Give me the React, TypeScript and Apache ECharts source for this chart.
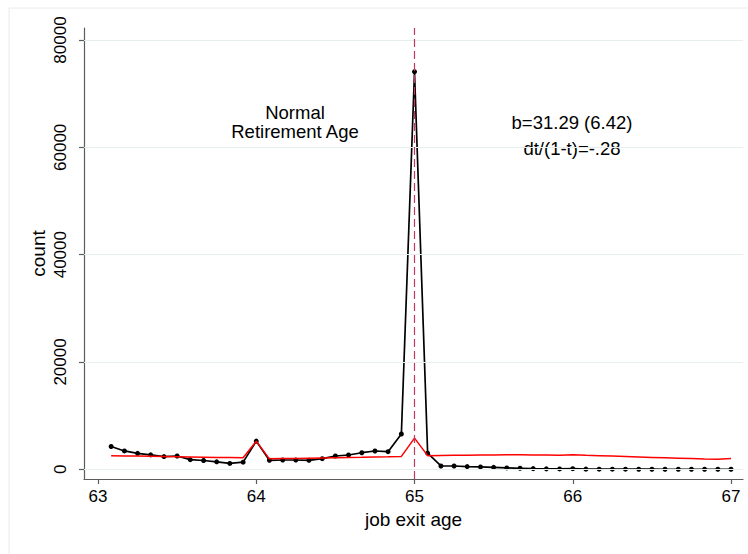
import React, { useEffect, useRef } from "react";
import * as echarts from "echarts";

const ages = [
  63.083, 63.167, 63.25, 63.333, 63.417, 63.5, 63.583, 63.667, 63.75, 63.833, 63.917, 64.0,
  64.083, 64.167, 64.25, 64.333, 64.417, 64.5, 64.583, 64.667, 64.75, 64.833, 64.917, 65.0,
  65.083, 65.167, 65.25, 65.333, 65.417, 65.5, 65.583, 65.667, 65.75, 65.833, 65.917, 66.0,
  66.083, 66.167, 66.25, 66.333, 66.417, 66.5, 66.583, 66.667, 66.75, 66.833, 66.917, 67.0,
];

const counts = [
  4250, 3420, 2980, 2690, 2370, 2480, 1790, 1640, 1390, 1090, 1330, 5250,
  1680, 1730, 1730, 1680, 1980, 2480, 2660, 3090, 3410, 3280, 6580, 74100,
  3000, 620, 610, 500, 440, 370, 260, 190, 130, 80, 70, 110,
  30, 25, 20, 20, 15, 15, 10, 10, 10, 10, 10, 10,
];

const fitted = [
  2540, 2500, 2460, 2420, 2380, 2340, 2300, 2260, 2220, 2190, 2160, 5250,
  1950, 1990, 2030, 2070, 2110, 2150, 2190, 2230, 2280, 2330, 2400, 5800,
  2540, 2580, 2610, 2640, 2660, 2680, 2690, 2690, 2680, 2660, 2640, 2720,
  2620, 2540, 2460, 2380, 2300, 2220, 2140, 2060, 1990, 1920, 1870, 2000,
];

const xTicks = [63, 64, 65, 66, 67];
const yTicks = [0, 20000, 40000, 60000, 80000];
const cutoffAge = 65;

const FONT = "Liberation Sans, Arial, Helvetica, sans-serif";

export default function App() {
  const ref = useRef<HTMLDivElement>(null);

  useEffect(() => {
    if (!ref.current) return;
    const chart = echarts.init(ref.current, null, { renderer: "svg" });
    chart.setOption({
      animation: false,
      backgroundColor: "#ffffff",
      grid: { left: 84, right: 5, top: 28, bottom: 75 },
      xAxis: {
        type: "value",
        min: 62.9115,
        max: 67.0758,
        axisLine: { onZero: false, lineStyle: { color: "#5c5c5c", width: 1.2 } },
        axisTick: { customValues: xTicks, length: 5, lineStyle: { color: "#5c5c5c", width: 1.2 } },
        axisLabel: {
          customValues: xTicks,
          fontSize: 17,
          color: "#000",
          fontFamily: FONT,
          margin: 9,
          formatter: (v: number) => String(Math.round(v)),
        },
        splitLine: { show: false },
        name: "job exit age",
        nameLocation: "middle",
        nameGap: 31,
        nameMoveOverlap: false,
        nameTextStyle: { fontSize: 19, color: "#000", fontFamily: FONT },
      },
      yAxis: {
        type: "value",
        min: -1808,
        max: 82236,
        axisLine: { show: true, onZero: false, lineStyle: { color: "#5c5c5c", width: 1.2 } },
        axisTick: { show: true, customValues: yTicks, length: 5, lineStyle: { color: "#5c5c5c", width: 1.2 } },
        axisLabel: {
          customValues: yTicks,
          rotate: 90,
          fontSize: 17,
          color: "#000",
          fontFamily: FONT,
          margin: 15,
          formatter: (v: number) => String(Math.round(v)),
        },
        splitLine: { show: false },
        name: "count",
        nameLocation: "middle",
        nameGap: 36,
        nameRotate: 90,
        nameMoveOverlap: false,
        nameTextStyle: { fontSize: 19, color: "#000", fontFamily: FONT },
      },
      series: [
        {
          type: "line",
          data: [],
          z: 1,
          silent: true,
          markLine: {
            silent: true,
            symbol: "none",
            label: { show: false },
            lineStyle: { color: "#e6eef0", type: "solid", width: 1 },
            data: yTicks.map((v) => ({ yAxis: v })),
          },
        },
        {
          type: "line",
          name: "count",
          data: ages.map((a, i) => [a, counts[i]]),
          z: 3,
          symbol: "circle",
          symbolSize: 5,
          showSymbol: true,
          itemStyle: { color: "#000" },
          lineStyle: { color: "#000", width: 1.7 },
        },
        {
          type: "line",
          name: "fitted",
          data: ages.map((a, i) => [a, fitted[i]]),
          z: 4,
          symbol: "none",
          lineStyle: { color: "#ff0000", width: 1.5 },
        },
        {
          type: "line",
          data: [],
          z: 5,
          silent: true,
          markLine: {
            silent: true,
            symbol: "none",
            label: { show: false },
            lineStyle: { color: "#bf3a5c", type: [8, 4], width: 1.2 },
            data: [{ xAxis: cutoffAge }],
          },
        },
      ],
      graphic: [
        {
          type: "rect",
          shape: { x: 9, y: 8, width: 780, height: 600 },
          style: { fill: "none", stroke: "#e8eaea", lineWidth: 1 },
          silent: true,
        },
        {
          type: "text",
          x: 295,
          y: 112,
          style: { text: "Normal", fontSize: 18.5, fontFamily: FONT, fill: "#000", align: "center", verticalAlign: "middle" },
        },
        {
          type: "text",
          x: 295,
          y: 131,
          style: { text: "Retirement Age", fontSize: 18.5, fontFamily: FONT, fill: "#000", align: "center", verticalAlign: "middle" },
        },
        {
          type: "text",
          x: 572,
          y: 122,
          style: { text: "b=31.29 (6.42)", fontSize: 18.5, fontFamily: FONT, fill: "#000", align: "center", verticalAlign: "middle" },
        },
        {
          type: "text",
          x: 572,
          y: 148,
          style: { text: "dt/(1-t)=-.28", fontSize: 18.5, fontFamily: FONT, fill: "#000", align: "center", verticalAlign: "middle" },
        },
      ],
    });
    return () => chart.dispose();
  }, []);

  return (
    <div
      ref={ref}
      style={{ position: "fixed", left: 0, top: 0, width: 748, height: 554, background: "#fff" }}
    />
  );
}
